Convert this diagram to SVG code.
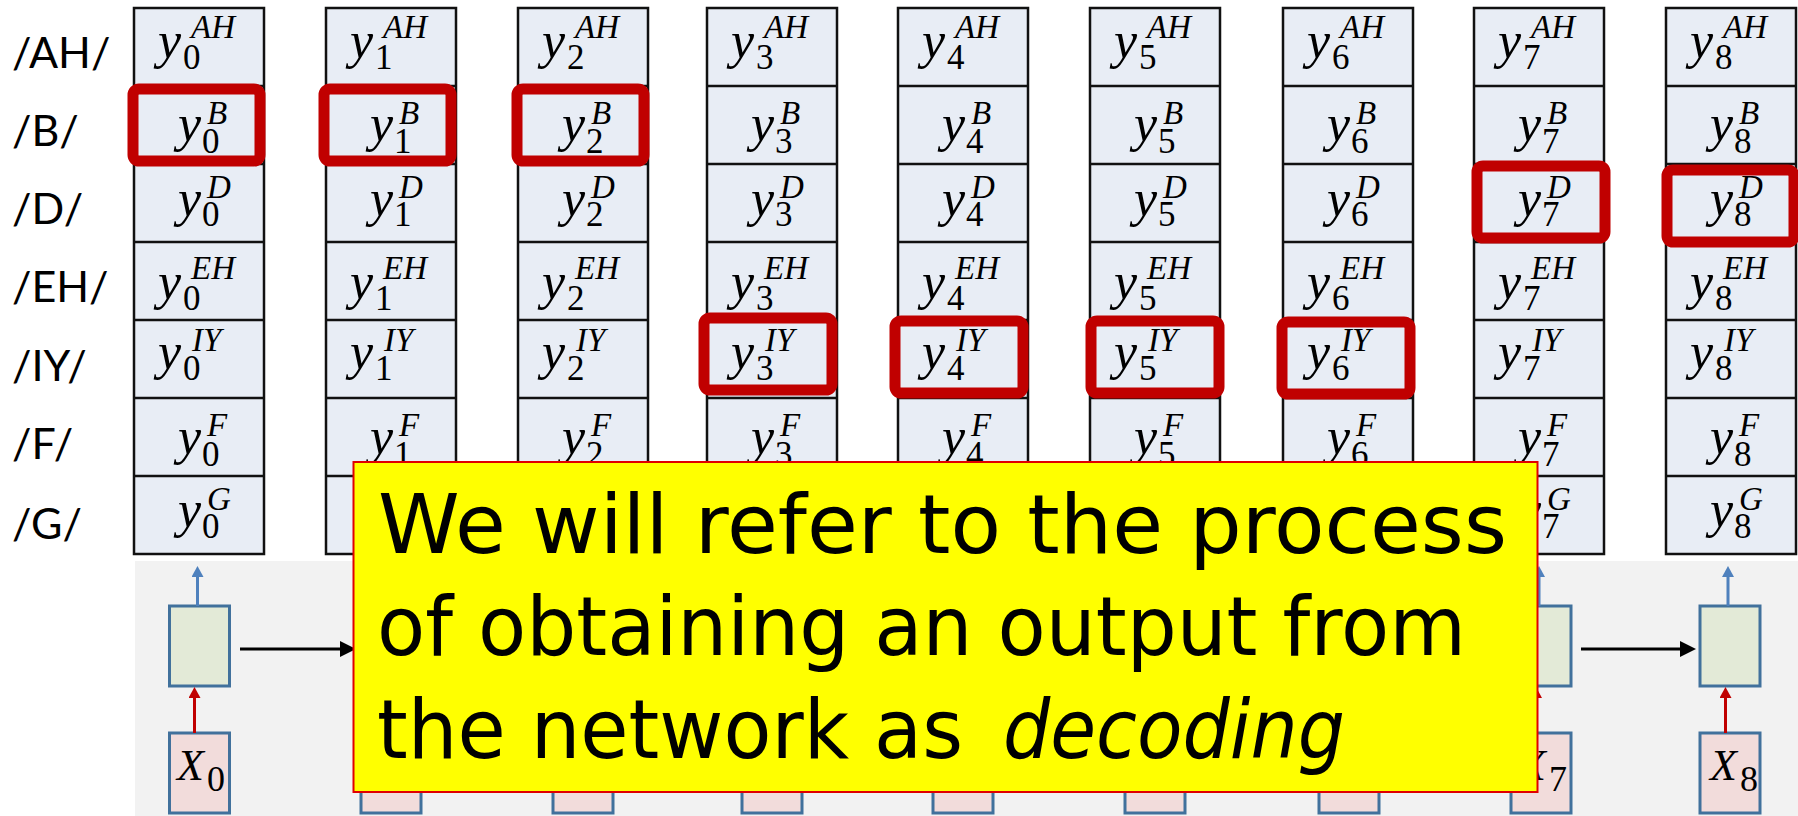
<svg xmlns="http://www.w3.org/2000/svg" width="1798" height="816" viewBox="0 0 1798 816">
<style>
.lbl{font-family:Lato,"Open Sans",sans-serif;font-size:43px;fill:#000}
.col{fill:#E8EDF5;stroke:#111;stroke-width:2.5}
.div{stroke:#111;stroke-width:2.5}
.v{font-family:"Liberation Serif",serif;font-style:italic;font-size:52px;fill:#000}
.sp{font-family:"Liberation Serif",serif;font-style:italic;font-size:33px}
.sb{font-family:"Liberation Serif",serif;font-style:normal;font-size:35px}
.hl{fill:none;stroke:#C00000;stroke-width:11}
.hid{fill:#E3EAD7;stroke:#41719C;stroke-width:3}
.inp{fill:#F2DCDB;stroke:#41719C;stroke-width:3}
.xl{font-family:"Liberation Serif",serif;font-style:italic;font-size:44px;fill:#000}
.xs{font-style:normal;font-size:36px}
.up{stroke:#4F81BD;stroke-width:3;fill:none}
.in{stroke:#C00000;stroke-width:3;fill:none}
.rec{stroke:#000;stroke-width:3.2;fill:none}
.note{font-family:"DejaVu Sans",sans-serif;font-size:82px;fill:#000}
</style>
<defs>
<marker id="mb" markerUnits="userSpaceOnUse" markerWidth="12" markerHeight="12" refX="4" refY="6" orient="auto"><path d="M0,0 L11,6 L0,12 z" fill="#4F81BD"/></marker>
<marker id="mr" markerUnits="userSpaceOnUse" markerWidth="12" markerHeight="12" refX="4" refY="6" orient="auto"><path d="M0,0 L11,6 L0,12 z" fill="#C00000"/></marker>
<marker id="mk" markerUnits="userSpaceOnUse" markerWidth="16" markerHeight="16" refX="6" refY="8" orient="auto"><path d="M0,0 L16,8 L0,16 z" fill="#000"/></marker>
</defs>
<rect width="1798" height="816" fill="#fff"/>

<g id="labels">
<text class="lbl" x="12" y="68">/AH/</text>
<text class="lbl" x="12" y="146">/B/</text>
<text class="lbl" x="12" y="224">/D/</text>
<text class="lbl" x="12" y="302">/EH/</text>
<text class="lbl" x="12" y="381">/IY/</text>
<text class="lbl" x="12" y="459">/F/</text>
<text class="lbl" x="12" y="539">/G/</text>
</g>

<g id="col0" transform="translate(134,0)">
<rect class="col" x="0" y="8" width="130" height="546"/>
<path class="div" d="M0,86H130M0,164H130M0,242H130M0,320H130M0,398H130M0,476H130"/>
<text class="v" x="24" y="58">y<tspan class="sp" x="57" y="38">AH</tspan><tspan class="sb" x="49" y="69">0</tspan></text>
<text class="v" x="44" y="141">y<tspan class="sp" x="73" y="124">B</tspan><tspan class="sb" x="68" y="153">0</tspan></text>
<text class="v" x="44" y="216">y<tspan class="sp" x="73" y="198">D</tspan><tspan class="sb" x="68" y="226">0</tspan></text>
<text class="v" x="24" y="299">y<tspan class="sp" x="57" y="279">EH</tspan><tspan class="sb" x="49" y="310">0</tspan></text>
<text class="v" x="24" y="369">y<tspan class="sp" x="58" y="351">IY</tspan><tspan class="sb" x="49" y="380">0</tspan></text>
<text class="v" x="44" y="454">y<tspan class="sp" x="73" y="436">F</tspan><tspan class="sb" x="68" y="466">0</tspan></text>
<text class="v" x="44" y="527">y<tspan class="sp" x="73" y="510">G</tspan><tspan class="sb" x="68" y="538">0</tspan></text>
</g>
<g id="col1" transform="translate(326,0)">
<rect class="col" x="0" y="8" width="130" height="546"/>
<path class="div" d="M0,86H130M0,164H130M0,242H130M0,320H130M0,398H130M0,476H130"/>
<text class="v" x="24" y="58">y<tspan class="sp" x="57" y="38">AH</tspan><tspan class="sb" x="49" y="69">1</tspan></text>
<text class="v" x="44" y="141">y<tspan class="sp" x="73" y="124">B</tspan><tspan class="sb" x="68" y="153">1</tspan></text>
<text class="v" x="44" y="216">y<tspan class="sp" x="73" y="198">D</tspan><tspan class="sb" x="68" y="226">1</tspan></text>
<text class="v" x="24" y="299">y<tspan class="sp" x="57" y="279">EH</tspan><tspan class="sb" x="49" y="310">1</tspan></text>
<text class="v" x="24" y="369">y<tspan class="sp" x="58" y="351">IY</tspan><tspan class="sb" x="49" y="380">1</tspan></text>
<text class="v" x="44" y="454">y<tspan class="sp" x="73" y="436">F</tspan><tspan class="sb" x="68" y="466">1</tspan></text>
</g>
<g id="col2" transform="translate(518,0)">
<rect class="col" x="0" y="8" width="130" height="546"/>
<path class="div" d="M0,86H130M0,164H130M0,242H130M0,320H130M0,398H130M0,476H130"/>
<text class="v" x="24" y="58">y<tspan class="sp" x="57" y="38">AH</tspan><tspan class="sb" x="49" y="69">2</tspan></text>
<text class="v" x="44" y="141">y<tspan class="sp" x="73" y="124">B</tspan><tspan class="sb" x="68" y="153">2</tspan></text>
<text class="v" x="44" y="216">y<tspan class="sp" x="73" y="198">D</tspan><tspan class="sb" x="68" y="226">2</tspan></text>
<text class="v" x="24" y="299">y<tspan class="sp" x="57" y="279">EH</tspan><tspan class="sb" x="49" y="310">2</tspan></text>
<text class="v" x="24" y="369">y<tspan class="sp" x="58" y="351">IY</tspan><tspan class="sb" x="49" y="380">2</tspan></text>
<text class="v" x="44" y="454">y<tspan class="sp" x="73" y="436">F</tspan><tspan class="sb" x="68" y="466">2</tspan></text>
</g>
<g id="col3" transform="translate(707,0)">
<rect class="col" x="0" y="8" width="130" height="546"/>
<path class="div" d="M0,86H130M0,164H130M0,242H130M0,320H130M0,398H130M0,476H130"/>
<text class="v" x="24" y="58">y<tspan class="sp" x="57" y="38">AH</tspan><tspan class="sb" x="49" y="69">3</tspan></text>
<text class="v" x="44" y="141">y<tspan class="sp" x="73" y="124">B</tspan><tspan class="sb" x="68" y="153">3</tspan></text>
<text class="v" x="44" y="216">y<tspan class="sp" x="73" y="198">D</tspan><tspan class="sb" x="68" y="226">3</tspan></text>
<text class="v" x="24" y="299">y<tspan class="sp" x="57" y="279">EH</tspan><tspan class="sb" x="49" y="310">3</tspan></text>
<text class="v" x="24" y="369">y<tspan class="sp" x="58" y="351">IY</tspan><tspan class="sb" x="49" y="380">3</tspan></text>
<text class="v" x="44" y="454">y<tspan class="sp" x="73" y="436">F</tspan><tspan class="sb" x="68" y="466">3</tspan></text>
</g>
<g id="col4" transform="translate(898,0)">
<rect class="col" x="0" y="8" width="130" height="546"/>
<path class="div" d="M0,86H130M0,164H130M0,242H130M0,320H130M0,398H130M0,476H130"/>
<text class="v" x="24" y="58">y<tspan class="sp" x="57" y="38">AH</tspan><tspan class="sb" x="49" y="69">4</tspan></text>
<text class="v" x="44" y="141">y<tspan class="sp" x="73" y="124">B</tspan><tspan class="sb" x="68" y="153">4</tspan></text>
<text class="v" x="44" y="216">y<tspan class="sp" x="73" y="198">D</tspan><tspan class="sb" x="68" y="226">4</tspan></text>
<text class="v" x="24" y="299">y<tspan class="sp" x="57" y="279">EH</tspan><tspan class="sb" x="49" y="310">4</tspan></text>
<text class="v" x="24" y="369">y<tspan class="sp" x="58" y="351">IY</tspan><tspan class="sb" x="49" y="380">4</tspan></text>
<text class="v" x="44" y="454">y<tspan class="sp" x="73" y="436">F</tspan><tspan class="sb" x="68" y="466">4</tspan></text>
</g>
<g id="col5" transform="translate(1090,0)">
<rect class="col" x="0" y="8" width="130" height="546"/>
<path class="div" d="M0,86H130M0,164H130M0,242H130M0,320H130M0,398H130M0,476H130"/>
<text class="v" x="24" y="58">y<tspan class="sp" x="57" y="38">AH</tspan><tspan class="sb" x="49" y="69">5</tspan></text>
<text class="v" x="44" y="141">y<tspan class="sp" x="73" y="124">B</tspan><tspan class="sb" x="68" y="153">5</tspan></text>
<text class="v" x="44" y="216">y<tspan class="sp" x="73" y="198">D</tspan><tspan class="sb" x="68" y="226">5</tspan></text>
<text class="v" x="24" y="299">y<tspan class="sp" x="57" y="279">EH</tspan><tspan class="sb" x="49" y="310">5</tspan></text>
<text class="v" x="24" y="369">y<tspan class="sp" x="58" y="351">IY</tspan><tspan class="sb" x="49" y="380">5</tspan></text>
<text class="v" x="44" y="454">y<tspan class="sp" x="73" y="436">F</tspan><tspan class="sb" x="68" y="466">5</tspan></text>
</g>
<g id="col6" transform="translate(1283,0)">
<rect class="col" x="0" y="8" width="130" height="546"/>
<path class="div" d="M0,86H130M0,164H130M0,242H130M0,320H130M0,398H130M0,476H130"/>
<text class="v" x="24" y="58">y<tspan class="sp" x="57" y="38">AH</tspan><tspan class="sb" x="49" y="69">6</tspan></text>
<text class="v" x="44" y="141">y<tspan class="sp" x="73" y="124">B</tspan><tspan class="sb" x="68" y="153">6</tspan></text>
<text class="v" x="44" y="216">y<tspan class="sp" x="73" y="198">D</tspan><tspan class="sb" x="68" y="226">6</tspan></text>
<text class="v" x="24" y="299">y<tspan class="sp" x="57" y="279">EH</tspan><tspan class="sb" x="49" y="310">6</tspan></text>
<text class="v" x="24" y="369">y<tspan class="sp" x="58" y="351">IY</tspan><tspan class="sb" x="49" y="380">6</tspan></text>
<text class="v" x="44" y="454">y<tspan class="sp" x="73" y="436">F</tspan><tspan class="sb" x="68" y="466">6</tspan></text>
</g>
<g id="col7" transform="translate(1474,0)">
<rect class="col" x="0" y="8" width="130" height="546"/>
<path class="div" d="M0,86H130M0,164H130M0,242H130M0,320H130M0,398H130M0,476H130"/>
<text class="v" x="24" y="58">y<tspan class="sp" x="57" y="38">AH</tspan><tspan class="sb" x="49" y="69">7</tspan></text>
<text class="v" x="44" y="141">y<tspan class="sp" x="73" y="124">B</tspan><tspan class="sb" x="68" y="153">7</tspan></text>
<text class="v" x="44" y="216">y<tspan class="sp" x="73" y="198">D</tspan><tspan class="sb" x="68" y="226">7</tspan></text>
<text class="v" x="24" y="299">y<tspan class="sp" x="57" y="279">EH</tspan><tspan class="sb" x="49" y="310">7</tspan></text>
<text class="v" x="24" y="369">y<tspan class="sp" x="58" y="351">IY</tspan><tspan class="sb" x="49" y="380">7</tspan></text>
<text class="v" x="44" y="454">y<tspan class="sp" x="73" y="436">F</tspan><tspan class="sb" x="68" y="466">7</tspan></text>
<text class="v" x="44" y="527">y<tspan class="sp" x="73" y="510">G</tspan><tspan class="sb" x="68" y="538">7</tspan></text>
</g>
<g id="col8" transform="translate(1666,0)">
<rect class="col" x="0" y="8" width="130" height="546"/>
<path class="div" d="M0,86H130M0,164H130M0,242H130M0,320H130M0,398H130M0,476H130"/>
<text class="v" x="24" y="58">y<tspan class="sp" x="57" y="38">AH</tspan><tspan class="sb" x="49" y="69">8</tspan></text>
<text class="v" x="44" y="141">y<tspan class="sp" x="73" y="124">B</tspan><tspan class="sb" x="68" y="153">8</tspan></text>
<text class="v" x="44" y="216">y<tspan class="sp" x="73" y="198">D</tspan><tspan class="sb" x="68" y="226">8</tspan></text>
<text class="v" x="24" y="299">y<tspan class="sp" x="57" y="279">EH</tspan><tspan class="sb" x="49" y="310">8</tspan></text>
<text class="v" x="24" y="369">y<tspan class="sp" x="58" y="351">IY</tspan><tspan class="sb" x="49" y="380">8</tspan></text>
<text class="v" x="44" y="454">y<tspan class="sp" x="73" y="436">F</tspan><tspan class="sb" x="68" y="466">8</tspan></text>
<text class="v" x="44" y="527">y<tspan class="sp" x="73" y="510">G</tspan><tspan class="sb" x="68" y="538">8</tspan></text>
</g>

<g id="highlights">
<rect class="hl" x="133" y="89" width="127" height="72" rx="6"/>
<rect class="hl" x="324" y="89" width="127" height="72" rx="6"/>
<rect class="hl" x="517" y="89" width="127" height="72" rx="6"/>
<rect class="hl" x="704" y="318" width="128" height="72" rx="6"/>
<rect class="hl" x="895" y="321" width="128" height="72" rx="6"/>
<rect class="hl" x="1091" y="321" width="128" height="72" rx="6"/>
<rect class="hl" x="1282" y="322" width="128" height="72" rx="6"/>
<rect class="hl" x="1477" y="166" width="128" height="72" rx="6"/>
<rect class="hl" x="1667" y="170" width="127" height="72" rx="6"/>
</g>

<rect id="rnn-bg" x="135" y="561" width="1663" height="255" fill="#F2F2F2"/>

<g id="step0"><rect class="hid" x="169.5" y="606" width="60" height="80"/><rect class="inp" x="169.5" y="733" width="60" height="80"/><text class="xl" x="177" y="780">X<tspan class="xs" x="207" y="791">0</tspan></text></g>
<g id="step1"><rect class="hid" x="361" y="606" width="60" height="80"/><rect class="inp" x="361" y="733" width="60" height="80"/></g>
<g id="step2"><rect class="hid" x="553" y="606" width="60" height="80"/><rect class="inp" x="553" y="733" width="60" height="80"/></g>
<g id="step3"><rect class="hid" x="742" y="606" width="60" height="80"/><rect class="inp" x="742" y="733" width="60" height="80"/></g>
<g id="step4"><rect class="hid" x="933" y="606" width="60" height="80"/><rect class="inp" x="933" y="733" width="60" height="80"/></g>
<g id="step5"><rect class="hid" x="1125" y="606" width="60" height="80"/><rect class="inp" x="1125" y="733" width="60" height="80"/></g>
<g id="step6"><rect class="hid" x="1319" y="606" width="60" height="80"/><rect class="inp" x="1319" y="733" width="60" height="80"/></g>
<g id="step7"><rect class="hid" x="1511" y="606" width="60" height="80"/><rect class="inp" x="1511" y="733" width="60" height="80"/><text class="xl" x="1519" y="780">X<tspan class="xs" x="1549" y="791">7</tspan></text></g>
<g id="step8"><rect class="hid" x="1700" y="606" width="60" height="80"/><rect class="inp" x="1700" y="733" width="60" height="80"/><text class="xl" x="1710" y="780">X<tspan class="xs" x="1740" y="791">8</tspan></text></g>

<g id="connectors">
<path class="up" marker-end="url(#mb)" d="M197.5,606V573"/>
<path class="up" marker-end="url(#mb)" d="M389,606V573"/>
<path class="up" marker-end="url(#mb)" d="M581,606V573"/>
<path class="up" marker-end="url(#mb)" d="M770,606V573"/>
<path class="up" marker-end="url(#mb)" d="M961,606V573"/>
<path class="up" marker-end="url(#mb)" d="M1153,606V573"/>
<path class="up" marker-end="url(#mb)" d="M1347,606V573"/>
<path class="up" marker-end="url(#mb)" d="M1539,606V573"/>
<path class="up" marker-end="url(#mb)" d="M1728,606V573"/>
<path class="in" marker-end="url(#mr)" d="M194.5,733V694"/>
<path class="in" marker-end="url(#mr)" d="M386,733V694"/>
<path class="in" marker-end="url(#mr)" d="M578,733V694"/>
<path class="in" marker-end="url(#mr)" d="M767,733V694"/>
<path class="in" marker-end="url(#mr)" d="M958,733V694"/>
<path class="in" marker-end="url(#mr)" d="M1150,733V694"/>
<path class="in" marker-end="url(#mr)" d="M1344,733V694"/>
<path class="in" marker-end="url(#mr)" d="M1536,733V694"/>
<path class="in" marker-end="url(#mr)" d="M1725.5,733V694"/>
<path class="rec" marker-end="url(#mk)" d="M240,649H346"/>
<path class="rec" marker-end="url(#mk)" d="M432,649H538"/>
<path class="rec" marker-end="url(#mk)" d="M624,649H727"/>
<path class="rec" marker-end="url(#mk)" d="M813,649H918"/>
<path class="rec" marker-end="url(#mk)" d="M1004,649H1110"/>
<path class="rec" marker-end="url(#mk)" d="M1196,649H1304"/>
<path class="rec" marker-end="url(#mk)" d="M1390,649H1496"/>
<path class="rec" marker-end="url(#mk)" d="M1581,649H1686"/>
</g>

<g id="note">
<rect x="353.5" y="462" width="1184" height="330" fill="#FFFF00" stroke="#E00000" stroke-width="2"/>
<text class="note" x="378" y="553" textLength="1129" lengthAdjust="spacingAndGlyphs">We will refer to the process</text>
<text class="note" x="377" y="655" textLength="1089" lengthAdjust="spacingAndGlyphs">of obtaining an output from</text>
<text class="note" x="377" y="758" textLength="586" lengthAdjust="spacingAndGlyphs">the network as</text>
<text class="note" x="1003" y="758" font-style="italic" textLength="342" lengthAdjust="spacingAndGlyphs">decoding</text>
</g>
</svg>
